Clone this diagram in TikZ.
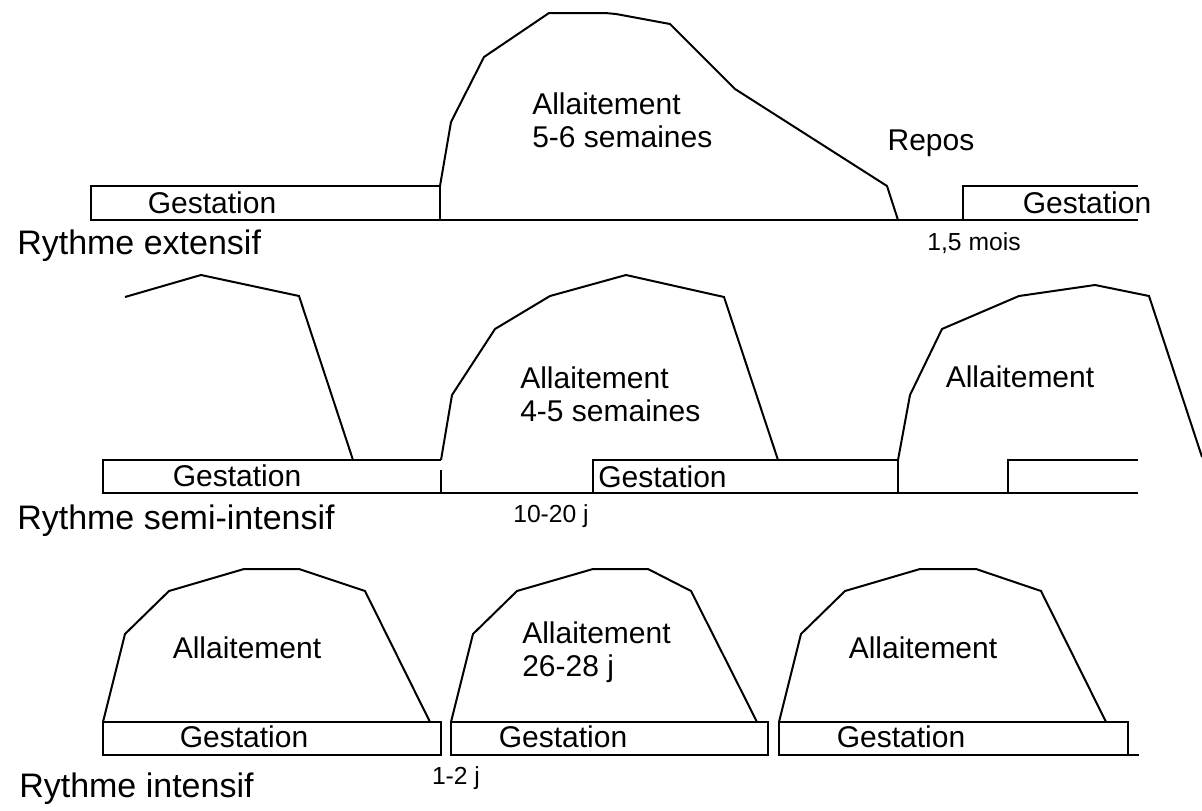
\documentclass[tikz,border=0pt]{standalone}
\usepackage{fontspec}
\setmainfont{Liberation Sans}
\usepackage{tikz}
\usetikzlibrary{positioning}
\tikzstyle{line} = [
    line width=1.5pt,
    line join=miter,
    color=black
]
\tikzstyle{txt} = [
    inner sep=0pt,
    font=\fontsize{22.5}{25}\selectfont
]
\tikzstyle{smalltxt} = [
    inner sep=0pt,
    font=\fontsize{18.5}{21}\selectfont
]
\tikzstyle{rythme} = [
    inner sep=0pt,
    anchor=west,
    font=\fontsize{25.5}{28}\selectfont
]

\begin{document}
\begin{tikzpicture}[x=0.75pt, y=-0.75pt]
        \useasboundingbox (0,0) rectangle (1202,810);

        % Rythme extensif
        \draw[line] (91,186) rectangle (440,220);
        \draw[line] (440,220) -- (1138,220);
        \draw[line] (440,186) -- (451,122) -- (484,57) -- (549,13) -- (605,13) -- (616,14)
            -- (670,24) -- (735,89) -- (887,186) -- (898,220);
        \draw[line] (1138,186) -- (963,186) -- (963,220);
        \node[txt] (gestA1) at (212,203) {Gestation};
        \node[txt] (gestA2) at (1087,203) {Gestation};
        \node[txt, align=left, anchor=west] (allA) at (532,120) {Allaitement\\5-6 semaines};
        \node[txt] (repos) at (931,143) {Repos};
        \node[smalltxt] (mois) at (974,243) {1,5 mois};
        \node[rythme] (rythA) at (17,246) {Rythme extensif};

        % Rythme semi-intensif
        \draw[line] (125,297) -- (201,275) -- (299,296) -- (353,460);
        \draw[line] (441,460) -- (103,460) -- (103,493) -- (1138,493);
        \draw[line] (441,470) -- (441,493);
        \draw[line] (441,460) -- (452,395) -- (495,329) -- (550,296) -- (626,275)
            -- (724,297) -- (778,460);
        \draw[line] (593,493) -- (593,460) -- (898,460) -- (898,493);
        \draw[line] (898,460) -- (910,395) -- (942,329) -- (1019,296) -- (1095,285)
            -- (1149,296) -- (1202,457);
        \draw[line] (1138,460) -- (1008,460) -- (1008,493);
        \node[txt] (gestB1) at (237,476) {Gestation};
        \node[txt, anchor=west] (gestB2) at (598,477) {Gestation};
        \node[txt, align=left, anchor=west] (allB1) at (520,394) {Allaitement\\4-5 semaines};
        \node[txt] (allB2) at (1020,377) {Allaitement};
        \node[smalltxt] (jours) at (551,516) {10-20 j};
        \node[rythme] (rythB) at (17,521) {Rythme semi-intensif};

        % Rythme intensif
        \draw[line] (103,722) rectangle (441,755);
        \draw[line] (451,722) rectangle (768,755);
        \draw[line] (779,722) rectangle (1128,755);
        \draw[line] (1128,755) -- (1139,755);
        \draw[line] (103,722) -- (125,634) -- (169,591) -- (244,569) -- (299,569)
            -- (365,591) -- (430,722);
        \draw[line] (451,722) -- (473,634) -- (517,591) -- (593,569) -- (648,569)
            -- (691,591) -- (757,722);
        \draw[line] (779,722) -- (801,634) -- (845,591) -- (920,569) -- (976,569)
            -- (1041,591) -- (1106,722);
        \node[txt] (gestC1) at (244,737) {Gestation};
        \node[txt] (gestC2) at (563,737) {Gestation};
        \node[txt] (gestC3) at (901,737) {Gestation};
        \node[txt] (allC1) at (247,648) {Allaitement};
        \node[txt, align=left, anchor=west] (allC2) at (522,652) {Allaitement\\26-28 j};
        \node[txt] (allC3) at (923,648) {Allaitement};
        \node[smalltxt] (pause) at (456,778) {1-2 j};
        \node[rythme] (rythC) at (19,789) {Rythme intensif};
    \end{tikzpicture}
\end{document}
